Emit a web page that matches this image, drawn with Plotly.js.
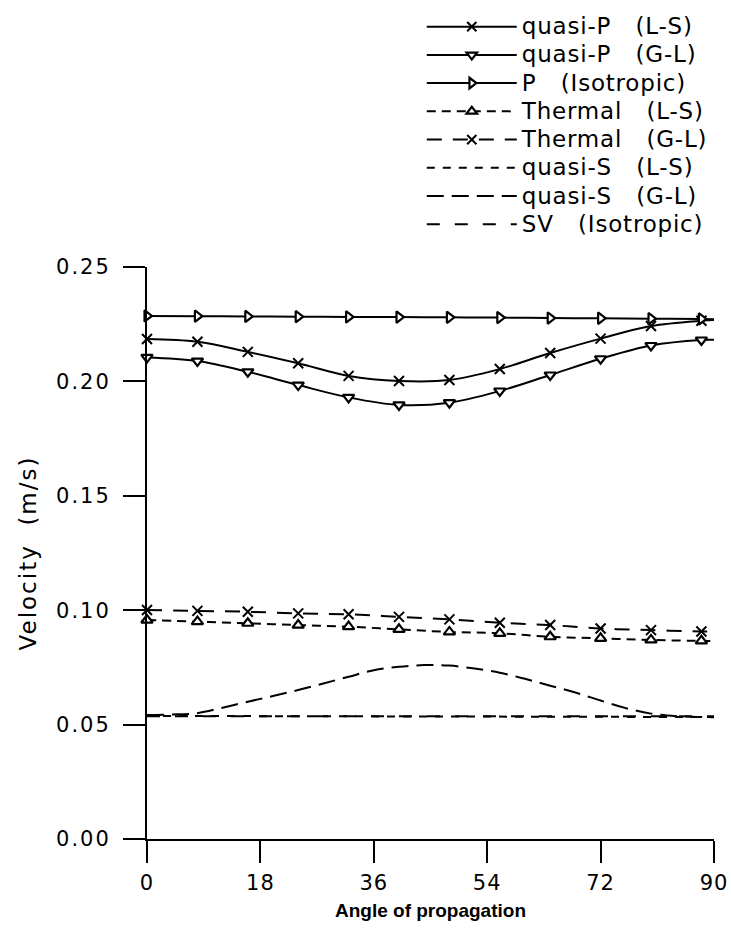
<!DOCTYPE html>
<html>
<head>
<meta charset="utf-8">
<script src="https://cdn.plot.ly/plotly-3.0.1.min.js"></script>
<style>
html,body{margin:0;padding:0;background:#fff;}
#chart{width:731px;height:946px;}
#chart .legendtext{font-size:23px !important;letter-spacing:0.8px;}
#chart .legend .scrollbox{clip-path:none !important;}
#chart .ytick text{letter-spacing:2px;}
#chart .xtick text{letter-spacing:1px;}
#chart .ytitle{letter-spacing:2px;}
</style>
</head>
<body>
<div id="chart"></div>
<script>
// ---- data ----
const angleMarked = [0, 8, 16, 24, 32, 40, 48, 56, 64, 72, 80, 88, 90];
const quasiP_LS = [0.2185, 0.2173, 0.2129, 0.2079, 0.2024, 0.2002, 0.2006, 0.2054, 0.2124, 0.2187, 0.2242, 0.2265, 0.2268];
const quasiP_GL = [0.2105, 0.2089, 0.2042, 0.1984, 0.1930, 0.1897, 0.1907, 0.1958, 0.2028, 0.2099, 0.2157, 0.2181, 0.2182];
const P_iso     = [0.2286, 0.2285, 0.2284, 0.2283, 0.2282, 0.2281, 0.2280, 0.2279, 0.2277, 0.2276, 0.2274, 0.2273, 0.2272];
const thermal_LS = [0.0957, 0.0950, 0.0943, 0.0935, 0.0928, 0.0916, 0.0905, 0.0899, 0.0884, 0.0877, 0.0870, 0.0866, 0.0866];
const thermal_GL = [0.1001, 0.0997, 0.0993, 0.0986, 0.0982, 0.0971, 0.0960, 0.0945, 0.0935, 0.0920, 0.0913, 0.0907, 0.0906];

const angleS = [0, 18, 36, 54, 72, 90];
const quasiS_LS = [0.0538, 0.0537, 0.0536, 0.0535, 0.0534, 0.0533];
const SV_iso    = [0.0537, 0.0537, 0.0537, 0.0537, 0.0537, 0.0537];

const angleFine = [0, 4, 8, 12, 16, 20, 24, 28, 32, 36, 40, 44, 48, 52, 56, 60, 64, 68, 72, 76, 80, 84, 88, 90];
const quasiS_GL = [0.0542, 0.0544, 0.0550, 0.0574, 0.0600, 0.0625, 0.0651, 0.0680, 0.0709, 0.0738, 0.0753, 0.0760,
                   0.0758, 0.0745, 0.0727, 0.0700, 0.0670, 0.0640, 0.0605, 0.0572, 0.0548, 0.0537, 0.0533, 0.0532];

const xTicks = [0, 18, 36, 54, 72, 90];
const yTicks = [0, 0.05, 0.10, 0.15, 0.20, 0.25];

const SP = '\u00a0\u00a0\u00a0';
const names = ['quasi-P' + SP + '(L-S)', 'quasi-P' + SP + '(G-L)', 'P' + SP + '(Isotropic)', 'Thermal' + SP + '(L-S)',
               'Thermal' + SP + '(G-L)', 'quasi-S' + SP + '(L-S)', 'quasi-S' + SP + '(G-L)', 'SV' + SP + '(Isotropic)'];

// ---- styling ----
const K = '#000';
const mSizes = angleMarked.map((a, i) => i === angleMarked.length - 1 ? 0 : 10);
function markedTrace(y, name, symbol, dash, isX) {
  return {
    x: angleMarked, y: y, name: name, type: 'scatter', mode: 'lines+markers',
    line: {color: K, width: 2, shape: 'spline', smoothing: 1, dash: dash},
    marker: isX ? {symbol: symbol, size: mSizes, color: K, opacity: 1, line: {color: K, width: 2}}
                : {symbol: symbol, size: mSizes, color: '#fff', opacity: 1, line: {color: K, width: 2.2}},
    cliponaxis: false
  };
}
const traces = [
  markedTrace(quasiP_LS, names[0], 'x-thin-open', 'solid', true),
  markedTrace(quasiP_GL, names[1], 'triangle-down', 'solid', false),
  markedTrace(P_iso, names[2], 'triangle-right', 'solid', false),
  markedTrace(thermal_LS, names[3], 'triangle-up', '9px,6px', false),
  markedTrace(thermal_GL, names[4], 'x-thin-open', '15px,11px', true),
  {x: angleS, y: quasiS_LS, name: names[5], type: 'scatter', mode: 'lines',
   line: {color: K, width: 2, dash: '8px,8px'}, cliponaxis: false},
  {x: angleFine, y: quasiS_GL, name: names[6], type: 'scatter', mode: 'lines',
   line: {color: K, width: 2, dash: '17px,8px', shape: 'spline', smoothing: 1}, cliponaxis: false},
  {x: angleS, y: SV_iso, name: names[7], type: 'scatter', mode: 'lines',
   line: {color: K, width: 2, dash: '13px,15px'}, cliponaxis: false}
];

const tickFont = {family: 'DejaVu Sans', size: 21, color: K};
const layout = {
  width: 731, height: 946,
  paper_bgcolor: '#fff', plot_bgcolor: '#fff',
  margin: {l: 147, r: 17, t: 267, b: 107, autoexpand: false},
  showlegend: true,
  legend: {
    xref: 'container', yref: 'container', x: 0.577, y: 0.992, xanchor: 'left', yanchor: 'top',
    font: {family: 'DejaVu Sans', size: 19.4, color: K},
    bgcolor: 'rgba(0,0,0,0)', borderwidth: 0, itemwidth: 90, tracegroupgap: 0
  },
  xaxis: {
    range: [0, 90], tickvals: xTicks, ticktext: xTicks.map(String),
    showline: true, linecolor: K, linewidth: 2, ticks: 'outside', ticklen: 22, tickwidth: 2, tickcolor: K,
    showgrid: false, zeroline: false, tickfont: tickFont, ticklabelstandoff: 2,
    title: {text: '<b>Angle of propagation</b>', font: {family: 'Liberation Sans', size: 19, color: K}, standoff: 9}
  },
  yaxis: {
    range: [0, 0.25], tickvals: yTicks, ticktext: yTicks.map(v => v.toFixed(2)),
    showline: true, linecolor: K, linewidth: 2, ticks: 'outside', ticklen: 22, tickwidth: 2, tickcolor: K,
    showgrid: false, zeroline: false, tickfont: tickFont, ticklabelstandoff: 8,
    title: {text: 'Velocity\u00a0\u00a0(m/s)', font: {family: 'DejaVu Sans', size: 23, color: K}, standoff: 21}
  }
};

Plotly.newPlot('chart', traces, layout, {displayModeBar: false, staticPlot: true});
</script>
</body>
</html>
